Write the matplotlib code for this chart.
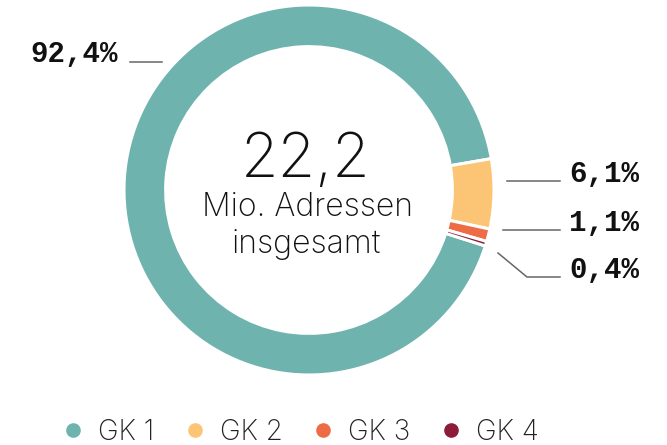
import matplotlib
matplotlib.use("Agg")
import matplotlib.pyplot as plt
from matplotlib.lines import Line2D

categories = ["GK 1", "GK 2", "GK 3", "GK 4"]
shares = [92.4, 6.1, 1.1, 0.4]
share_labels = ["92,4%", "6,1%", "1,1%", "0,4%"]
colors = ["#6fb3ae", "#fcc575", "#ee6c45", "#8c1c3a"]
total_value = "22,2"
total_caption = ["Mio. Adressen", "insgesamt"]

W, H, DPI = 667, 445, 100
fig = plt.figure(figsize=(W / DPI, H / DPI), dpi=DPI)

# donut geometry in pixels
cx, cy, R = 309, 190, 185
ax = fig.add_axes([(cx - R) / W, (H - cy - R) / H, 2 * R / W, 2 * R / H])

ax.pie(shares, colors=colors, startangle=-17.6, counterclock=False,
       radius=1.0, wedgeprops=dict(width=0.225, edgecolor="white", linewidth=2.2))
ax.set_xlim(-1, 1)
ax.set_ylim(-1, 1)
ax.set_aspect("equal")
ax.axis("off")


def px(x, y):
    """pixel position (from top-left) -> data coords of the donut axes"""
    return (x - cx) / R, (cy - y) / R


lab_font = dict(family="Liberation Mono", weight="bold", fontsize=21, color="#111111")
line_kw = dict(color="#666666", lw=1.1, clip_on=False)

# left label
x0, y0 = px(130, 62)
x1, _ = px(162, 62)
ax.plot([x0, x1], [y0, y0], **line_kw)
tx, ty = px(118, 62)
ax.text(tx, ty, share_labels[0], ha="right", va="baseline", **lab_font)

# right labels
rows = [(181, 507), (230, 503)]
for (yb, xs), lab in zip(rows, share_labels[1:3]):
    a, b = px(xs, yb)
    c, _ = px(560, yb)
    ax.plot([a, c], [b, b], **line_kw)
    t1, t2 = px(569, yb + 1)
    ax.text(t1, t2, lab, ha="left", va="baseline", **lab_font)

pts = [px(498, 253), px(527, 277), px(560, 277)]
ax.plot([p[0] for p in pts], [p[1] for p in pts], **line_kw)
t1, t2 = px(569, 278)
ax.text(t1, t2, share_labels[3], ha="left", va="baseline", **lab_font)

# centre text
cfont = dict(family="Inter", weight="light", color="#111111")
a, b = px(306, 177)
ax.text(a, b, total_value, ha="center", va="baseline", fontsize=44, **cfont)
a, b = px(307, 216)
ax.text(a, b, total_caption[0], ha="center", va="baseline", fontsize=23, **cfont)
a, b = px(306, 253)
ax.text(a, b, total_caption[1], ha="center", va="baseline", fontsize=23, **cfont)

# legend
handles = [Line2D([], [], ls="none", marker="o", markersize=9.5, color=c) for c in colors]
leg = fig.legend(handles, categories, loc="center", bbox_to_anchor=(299 / W, 1 - 432 / H),
                 ncol=4, frameon=False, handletextpad=0.4, columnspacing=0.97,
                 handlelength=1.0, prop=dict(family="Inter", weight="light", size=20))
for t in leg.get_texts():
    t.set_color("#222222")

fig.savefig("out.png", dpi=DPI, facecolor="white")
